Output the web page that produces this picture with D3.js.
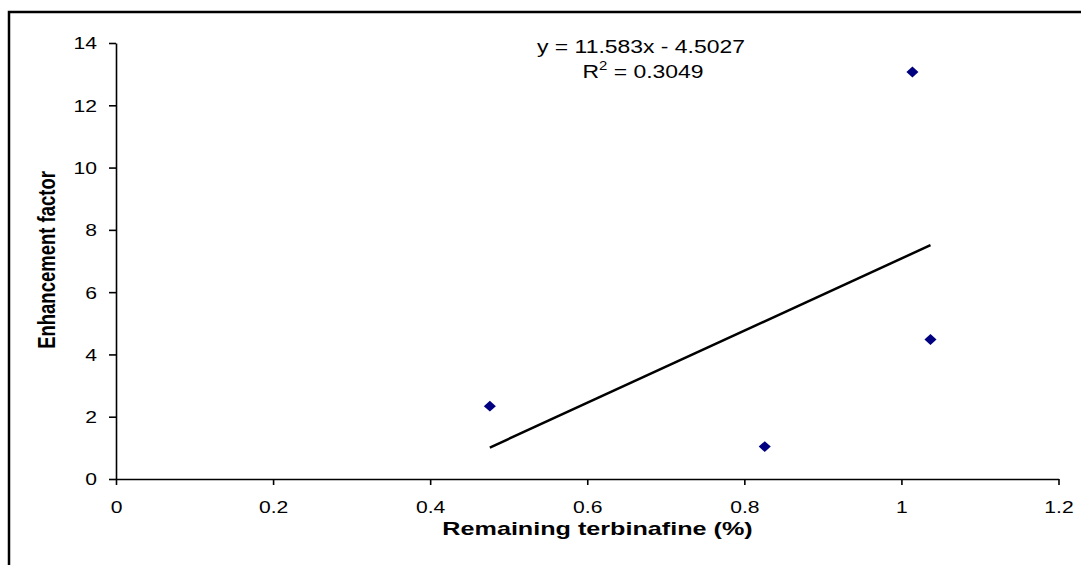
<!DOCTYPE html>
<html>
<head>
<meta charset="utf-8">
<script src="https://cdn.jsdelivr.net/npm/d3@7"></script>
<style>
  html, body { margin: 0; padding: 0; background: #fff; }
  svg { display: block; }
  text { font-family: "Liberation Sans", Arial, sans-serif; fill: #000; }
</style>
</head>
<body>
<svg id="chart" width="1081" height="565"></svg>
<script>
// Remaining terbinafine (%) vs enhancement factor
const remaining = [0.476, 0.826, 1.014, 1.037];
const enhancement = [2.34, 1.04, 13.07, 4.48];
const xTicks = [0, 0.2, 0.4, 0.6, 0.8, 1, 1.2];
const yTicks = [0, 2, 4, 6, 8, 10, 12, 14];
// Linear trendline
const slope = 11.583;
const intercept = -4.5027;
const rSquared = 0.3049;

// Text is drawn slightly widened horizontally
const WIDE = 1.28;
const FONT = "Liberation Sans, Arial, sans-serif";

const svg = d3.select("#chart");

// Outer frame (left and top edges)
svg.append("path")
  .attr("d", "M9,565 V12 H1081")
  .attr("fill", "none")
  .attr("stroke", "#000")
  .attr("stroke-width", 2.5);

const x = d3.scaleLinear().domain([0, 1.2]).range([116, 1058.5]);
const y = d3.scaleLinear().domain([0, 14]).range([479, 43]);

// X axis
const xAxis = svg.append("g")
  .attr("transform", `translate(0,${y(0)})`)
  .call(d3.axisBottom(x).tickValues(xTicks).tickFormat(d3.format("~g")).tickSize(6).tickSizeOuter(0));
xAxis.select(".domain").attr("stroke", "#000").attr("stroke-width", 1.6);
xAxis.selectAll(".tick line").attr("stroke", "#000").attr("stroke-width", 1.6);
xAxis.selectAll(".tick text")
  .attr("font-size", 16.5).attr("font-family", FONT)
  .attr("y", 0).attr("dy", 0)
  .attr("transform", `translate(0,34) scale(${WIDE},1)`);

// Y axis
const yAxis = svg.append("g")
  .attr("transform", `translate(${x(0)},0)`)
  .call(d3.axisLeft(y).tickValues(yTicks).tickFormat(d3.format("~g")).tickSize(7).tickSizeOuter(0));
yAxis.select(".domain").attr("stroke", "#000").attr("stroke-width", 1.6);
yAxis.selectAll(".tick line").attr("stroke", "#000").attr("stroke-width", 1.6);
yAxis.selectAll(".tick text")
  .attr("font-size", 16.5).attr("font-family", FONT)
  .attr("x", 0).attr("dy", "0.36em")
  .attr("transform", `translate(-19,0) scale(${WIDE},1)`);

// Trendline across the range of the data
const [xMin, xMax] = d3.extent(remaining);
svg.append("line")
  .attr("x1", x(xMin)).attr("y1", y(slope * xMin + intercept))
  .attr("x2", x(xMax)).attr("y2", y(slope * xMax + intercept))
  .attr("stroke", "#000")
  .attr("stroke-width", 2.5);

// Data markers (diamonds)
svg.append("g").selectAll("path")
  .data(remaining.map((v, i) => [v, enhancement[i]]))
  .join("path")
  .attr("d", d3.symbol().type(d3.symbolSquare).size(60))
  .attr("transform", d => `translate(${x(d[0])},${y(d[1])}) scale(1.1,1) rotate(45)`)
  .attr("fill", "#000080");

// Trendline equation
svg.append("text")
  .attr("transform", `translate(641,53) scale(1.24,1)`)
  .attr("text-anchor", "middle")
  .attr("font-size", 18.5)
  .text(`y = ${slope}x - ${Math.abs(intercept)}`);
const r2 = svg.append("text")
  .attr("transform", `translate(643,78) scale(1.24,1)`)
  .attr("text-anchor", "middle")
  .attr("font-size", 18.5);
r2.append("tspan").text("R");
r2.append("tspan").attr("font-size", 12).attr("dy", -8).text("2");
r2.append("tspan").attr("dy", 8).text(` = ${rSquared}`);

// Axis titles
svg.append("text")
  .attr("transform", `translate(597.5,535) scale(1.36,1)`)
  .attr("text-anchor", "middle")
  .attr("font-size", 18.5)
  .attr("font-weight", "bold")
  .text("Remaining terbinafine (%)");

svg.append("text")
  .attr("transform", `translate(55,260) scale(${WIDE},1) rotate(-90)`)
  .attr("text-anchor", "middle")
  .attr("font-size", 18.5)
  .attr("font-weight", "bold")
  .text("Enhancement factor");
</script>
</body>
</html>
